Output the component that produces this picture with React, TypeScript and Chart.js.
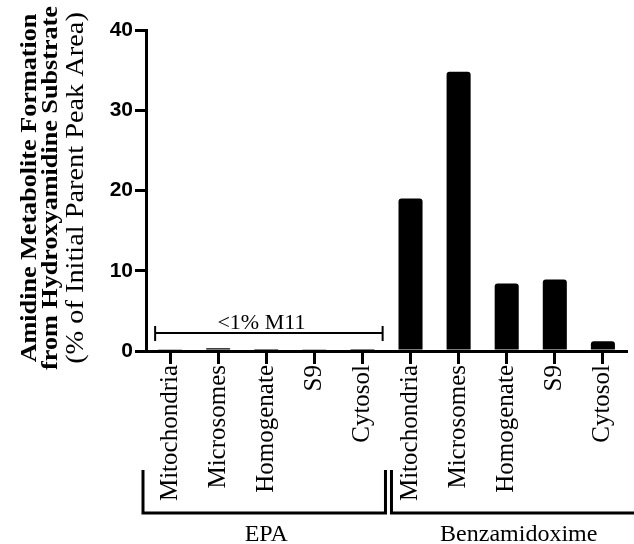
import React, { useEffect, useRef } from "react";
import { Chart, registerables } from "chart.js";
Chart.register(...registerables);

const categories = [
  "Mitochondria", "Microsomes", "Homogenate", "S9", "Cytosol",
  "Mitochondria", "Microsomes", "Homogenate", "S9", "Cytosol",
];
const epaValues = [0.15, 0.35, 0.12, 0.15, 0.1];
const benzValues = [19.0, 34.8, 8.4, 8.9, 1.2];
const groupLabels = ["EPA", "Benzamidoxime"];
const yTickValues = [0, 10, 20, 30, 40];
const titleLines = [
  "Amidine Metabolite Formation",
  "from Hydroxyamidine Substrate",
  "(% of Initial Parent Peak Area)",
];
const annotationText = "<1% M11";

const SERIF = "'Liberation Serif', 'Times New Roman', serif";
const SANS = "'Liberation Sans', Arial, sans-serif";

const overlay = {
  id: "overlay",
  afterDraw(chart: any) {
    const { ctx, scales } = chart;
    const x = scales.x;
    const y = scales.y;
    const step = x.getPixelForValue(1) - x.getPixelForValue(0);
    ctx.save();
    ctx.strokeStyle = "#000";
    ctx.fillStyle = "#000";

    // "<1% M11" bracket
    const by = y.getPixelForValue(2.25);
    const bl = x.getPixelForValue(0) - 0.31 * step;
    const br = x.getPixelForValue(4) + 0.42 * step;
    ctx.lineWidth = 2;
    ctx.beginPath();
    ctx.moveTo(bl, by);
    ctx.lineTo(br, by);
    ctx.moveTo(bl, by - 7);
    ctx.lineTo(bl, by + 8);
    ctx.moveTo(br, by - 7);
    ctx.lineTo(br, by + 8);
    ctx.stroke();
    ctx.font = `22px ${SERIF}`;
    ctx.textAlign = "center";
    ctx.textBaseline = "alphabetic";
    ctx.fillText(annotationText, x.getPixelForValue(1.9), by - 4);

    // group brackets
    const mid = (x.getPixelForValue(4) + x.getPixelForValue(5)) / 2;
    const top = 470;
    const bot = 513;
    const left1 = chart.chartArea.left - 3;
    const right1 = mid - 1;
    const left2 = mid + 5;
    const right2 = chart.width + 2;
    ctx.lineWidth = 3;
    ctx.lineJoin = "miter";
    ctx.beginPath();
    ctx.moveTo(left1, top);
    ctx.lineTo(left1, bot);
    ctx.lineTo(right1, bot);
    ctx.lineTo(right1, top);
    ctx.moveTo(left2, top);
    ctx.lineTo(left2, bot);
    ctx.lineTo(right2, bot);
    ctx.stroke();
    ctx.font = `24px ${SERIF}`;
    ctx.fillText(groupLabels[0], x.getPixelForValue(2), 541);
    ctx.fillText(groupLabels[1], x.getPixelForValue(7.25), 541);

    // y-axis title lines
    const baselines = [36, 57, 83];
    const fonts = [`bold 24px ${SERIF}`, `bold 24px ${SERIF}`, `26px ${SERIF}`];
    titleLines.forEach((t, i) => {
      ctx.save();
      ctx.translate(baselines[i], 188);
      ctx.rotate(-Math.PI / 2);
      ctx.scale(1.09, 1);
      ctx.font = fonts[i];
      ctx.textAlign = "center";
      ctx.textBaseline = "alphabetic";
      ctx.fillText(t, 0, 0);
      ctx.restore();
    });
    ctx.restore();
  },
};

export default function App() {
  const ref = useRef<HTMLCanvasElement | null>(null);
  useEffect(() => {
    if (!ref.current) return;
    const chart = new Chart(ref.current, {
      type: "bar",
      data: {
        labels: categories,
        datasets: [
          {
            data: [...epaValues, ...benzValues],
            backgroundColor: "#000",
            borderWidth: 0,
            borderRadius: { topLeft: 3, topRight: 3, bottomLeft: 0, bottomRight: 0 },
            borderSkipped: false,
            barPercentage: 0.5,
            categoryPercentage: 1,
          },
        ],
      },
      options: {
        animation: false,
        responsive: false,
        devicePixelRatio: 1,
        layout: { padding: { top: 30, right: 2, left: 0, bottom: 0 } },
        plugins: { legend: { display: false }, tooltip: { enabled: false } },
        scales: {
          x: {
            offset: true,
            grid: {
              display: true,
              offset: false,
              drawOnChartArea: false,
              drawTicks: true,
              tickLength: 13,
              lineWidth: 3,
              color: "#000",
            },
            border: { display: true, width: 3, color: "#000" },
            ticks: {
              autoSkip: false,
              maxRotation: 90,
              minRotation: 90,
              padding: 1,
              color: "#000",
              font: { family: SERIF, size: 25 },
            },
            afterFit: (s: any) => {
              s.height = 193;
            },
          },
          y: {
            min: 0,
            max: 40,
            grid: {
              display: true,
              drawOnChartArea: false,
              drawTicks: true,
              tickLength: 11,
              lineWidth: 3,
              color: "#000",
            },
            border: { display: true, width: 3, color: "#000" },
            ticks: {
              padding: 2,
              color: "#000",
              font: { family: SANS, size: 21, weight: "bold" },
            },
            afterBuildTicks: (s: any) => {
              s.ticks = yTickValues.map((v) => ({ value: v }));
            },
            afterFit: (s: any) => {
              s.width = 146;
            },
          },
        },
      },
      plugins: [overlay],
    });
    return () => chart.destroy();
  }, []);
  return (
    <div style={{ position: "fixed", left: 0, top: 0, width: 634, height: 544, background: "#fff" }}>
      <canvas ref={ref} width={634} height={544} />
    </div>
  );
}
